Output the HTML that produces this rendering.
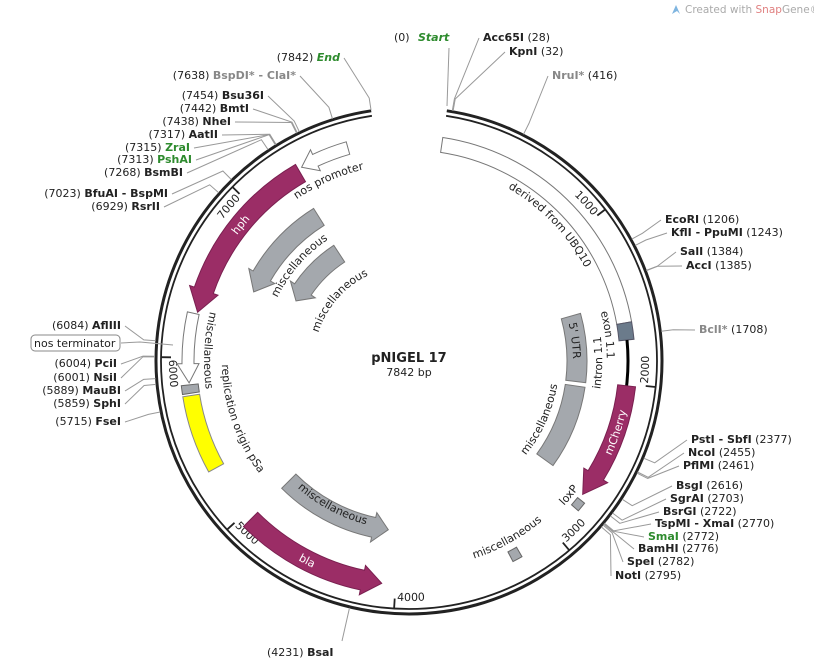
<!DOCTYPE html>
<html><head><meta charset="utf-8">
<style>
html,body{margin:0;padding:0;background:#fff;}
svg{display:block;}
text{font-family:"DejaVu Sans","Liberation Sans",sans-serif;}
</style></head>
<body>
<svg id="s" width="814" height="666" viewBox="0 0 814 666" xmlns="http://www.w3.org/2000/svg">
<rect width="814" height="666" fill="#fff"/>
<g id="g"></g>
<text x="685" y="13" font-size="10.5" fill="#aaa">Created with <tspan fill="#e08080">Snap</tspan>Gene®</text>
<path d="M672 14 L676 5 L680 14 L677 11 Z" fill="#7fb5e0"/>
<text x="409" y="362" font-size="13" font-weight="bold" text-anchor="middle" fill="#222">pNIGEL 17</text>
<text x="409" y="376" font-size="11" text-anchor="middle" fill="#222">7842 bp</text>
</svg>
<script>
const cx=409, cy=361, NS="http://www.w3.org/2000/svg";
const g=document.getElementById('g');
const P=p=>8.6+p/7842*342.8;
function pt(r,a){a=a*Math.PI/180;return [cx+r*Math.sin(a), cy-r*Math.cos(a)];}
const f=v=>v.toFixed(1);
function el(tag,attrs,txt){const e=document.createElementNS(NS,tag);for(const k in attrs)e.setAttribute(k,attrs[k]);if(txt!=null)e.textContent=txt;g.appendChild(e);return e;}
function arcD(r,a1,a2,sweep){const [x1,y1]=pt(r,a1),[x2,y2]=pt(r,a2);const L=Math.abs(a2-a1)>180?1:0;return `M${f(x1)} ${f(y1)} A${r} ${r} 0 ${L} ${sweep} ${f(x2)} ${f(y2)}`;}
function band(r1,r2,a1,a2,fill,stroke){
 const [x1,y1]=pt(r2,a1),[x2,y2]=pt(r2,a2),[x3,y3]=pt(r1,a2),[x4,y4]=pt(r1,a1);const L=(a2-a1)>180?1:0;
 el('path',{d:`M${f(x1)} ${f(y1)} A${r2} ${r2} 0 ${L} 1 ${f(x2)} ${f(y2)} L${f(x3)} ${f(y3)} A${r1} ${r1} 0 ${L} 0 ${f(x4)} ${f(y4)}Z`,fill:fill,stroke:stroke||'#777','stroke-width':1});}
function arrow(r1,r2,tail,tip,h,fill,stroke,e){
 e=e||5;const rm=(r1+r2)/2;let d;
 if(tip>tail){const b=tip-h;
  const a=pt(r2,tail),bb=pt(r2,b),c=pt(r2+e,b),t=pt(rm,tip),d1=pt(r1-e,b),d2=pt(r1,b),z=pt(r1,tail);
  d=`M${f(a[0])} ${f(a[1])} A${r2} ${r2} 0 0 1 ${f(bb[0])} ${f(bb[1])} L${f(c[0])} ${f(c[1])} L${f(t[0])} ${f(t[1])} L${f(d1[0])} ${f(d1[1])} L${f(d2[0])} ${f(d2[1])} A${r1} ${r1} 0 0 0 ${f(z[0])} ${f(z[1])}Z`;
 } else {const b=tip+h;
  const a=pt(r2,tail),bb=pt(r2,b),c=pt(r2+e,b),t=pt(rm,tip),d1=pt(r1-e,b),d2=pt(r1,b),z=pt(r1,tail);
  d=`M${f(a[0])} ${f(a[1])} A${r2} ${r2} 0 0 0 ${f(bb[0])} ${f(bb[1])} L${f(c[0])} ${f(c[1])} L${f(t[0])} ${f(t[1])} L${f(d1[0])} ${f(d1[1])} L${f(d2[0])} ${f(d2[1])} A${r1} ${r1} 0 0 1 ${f(z[0])} ${f(z[1])}Z`;}
 el('path',{d:d,fill:fill,stroke:stroke||'#666','stroke-width':1});}
let pid=0;
function tarc(txt,r,a,cw,opt){opt=opt||{};const id='tp'+(pid++);const anchor=opt.anchor||'middle';
 let d;
 if(anchor==='middle'){d=cw?arcD(r,a-80,a+80,1):arcD(r,a+80,a-80,0);}
 else if(anchor==='end'){d=arcD(r,a-80,a,1);} // cw ending at a
 else {d=arcD(r,a,a-80,0);} // ccw starting at a
 el('path',{id:id,d:d,fill:'none',stroke:'none'});
 const t=el('text',{'font-size':opt.size||11,fill:opt.fill||'#222','text-anchor':anchor});
 const tp=document.createElementNS(NS,'textPath');tp.setAttribute('href','#'+id);
 tp.setAttribute('startOffset',anchor==='middle'?'50%':(anchor==='end'?'100%':'0%'));tp.textContent=txt;t.appendChild(tp);}

// ring
el('path',{d:arcD(253,P(0),P(7842),1),fill:'none',stroke:'#222','stroke-width':3});
el('path',{d:arcD(248,P(0),P(7842),1),fill:'none',stroke:'#222','stroke-width':1.8});
// ticks
[[1000,'cw'],[2000,'ccw'],[3000,'ccw'],[4000,'ccw'],[5000,'ccw'],[6000,'ccw'],[7000,'cw']].forEach(([p,m])=>{
 const a=P(p);const [x1,y1]=pt(248,a),[x2,y2]=pt(238,a);
 el('line',{x1:f(x1),y1:f(y1),x2:f(x2),y2:f(y2),stroke:'#222','stroke-width':1.8});
 if(m==='cw')tarc(String(p),234,a-0.6,true,{anchor:'end'});else tarc(String(p),240,a-0.6,false,{anchor:'start'});
});

// features
band(211,226,P(0),80,'#fff','#777');
band(211,226,80,84.5,'#6b7b8b','#556');
el('path',{d:arcD(219,84.5,96.5,1),fill:'none',stroke:'#000','stroke-width':3});
arrow(210,228,96.5,127.5,6,'#9b2d66','#7a2050',5);
band(217,226,129,131.5,'#a4a8ad','#666');
band(215,226,150,152.6,'#a4a8ad','#666');
band(158,178,74.5,97,'#a4a8ad','#777');
band(158,178,98.5,126,'#a4a8ad','#777');
arrow(160,180,225,187,5,'#a4a8ad','#777',5);
arrow(214,234,225,187,5,'#9b2d66','#7a2050',5);
band(212,229,241,261,'#ffff00','#888');
band(212,229,261.6,263.8,'#a4a8ad','#666');
arrow(215,227,282.5,264.3,5,'#fff','#777',5);
arrow(207,227,330,283,6,'#9b2d66','#7a2050',5);
arrow(215,228,344,331,4,'#fff','#777',5);
arrow(160,180,328,294,6,'#a4a8ad','#777',5);
arrow(118,138,327,298,6,'#a4a8ad','#777',5);

// feature labels
tarc('derived from UBQ10',199,46,true);
tarc('nos promoter',197,336,true);
tarc('hph',213,309,true,{fill:'#fff'});
tarc('miscellaneous',146,311,true);
tarc('miscellaneous',95,311,true);
tarc('miscellaneous',205,273,false);
tarc('replication origin pSa',187,251,false);
tarc('miscellaneous',169,208,false);
tarc('bla',228,207,false,{fill:'#fff'});
tarc('miscellaneous',208,151,false);
tarc('loxP',212,130,false);
tarc('mCherry',223,109,false,{fill:'#fff'});
tarc("5' UTR",164,83,true);
tarc('miscellaneous',150,114,false);
tarc('exon 1.1',198,82.5,true);
tarc('intron 1.1',193,90.5,false);

// restriction sites
const G='#2e8b2e', GR='#888';
function site(pos,name,num,x,y,side,color,extra){
 const a=P(pos);const [rx,ry]=pt(254,a),[ex,ey]=pt(266,a);
 const lx=side==='L'?x+4:x-4, ly=y-3;
 el('polyline',{points:`${f(rx)},${f(ry)} ${f(ex)},${f(ey)} ${lx},${ly}`,fill:'none',stroke:'#999','stroke-width':1});
 const t=el('text',{x:x,y:y,'font-size':11,fill:'#222','text-anchor':side==='L'?'end':'start'});
 const mk=(s,b,c,it)=>{const ts=document.createElementNS(NS,'tspan');ts.textContent=s;if(b)ts.setAttribute('font-weight','bold');if(c)ts.setAttribute('fill',c);if(it)ts.setAttribute('font-style','italic');t.appendChild(ts);};
 if(side==='L'){mk('('+num+')  ');mk(name,true,color,extra);} else {mk(name,true,color,extra);mk('  ('+num+')');}
}
const L=[[7842,'End',340,61,G,1],[7638,'BspDI* - ClaI*',296,79,GR],[7454,'Bsu36I',264,99],[7442,'BmtI',249,112],[7438,'NheI',231,125],
[7317,'AatII',218,138],[7315,'ZraI',190,151,G],[7313,'PshAI',192,163,G],[7268,'BsmBI',183,176],[7023,'BfuAI - BspMI',168,197],[6929,'RsrII',160,210],
[6084,'AflIII',121,329],[6004,'PciI',117,367],[6001,'NsiI',117,381],[5889,'MauBI',121,394],[5859,'SphI',121,407],[5715,'FseI',121,425]];
L.forEach(s=>site(s[0],s[1],s[0],s[2],s[3],'L',s[4],s[5]));
const R=[[0,'Start',0,0],[28,'Acc65I',483,41],[32,'KpnI',509,55],[416,'NruI*',552,79,GR],[1206,'EcoRI',665,223],[1243,'KflI - PpuMI',671,236],
[1384,'SalI',680,255],[1385,'AccI',686,269],[1708,'BclI*',699,333,GR],[2377,'PstI - SbfI',691,443],[2455,'NcoI',688,456],[2461,'PflMI',683,469],
[2616,'BsgI',676,489],[2703,'SgrAI',670,502],[2722,'BsrGI',663,515],[2770,'TspMI - XmaI',655,527],[2772,'SmaI',648,540,G],[2776,'BamHI',638,552],
[2782,'SpeI',627,565],[2795,'NotI',615,579]];
R.slice(1).forEach(s=>site(s[0],s[1],s[0],s[2],s[3],'R',s[4]));
// Start
el('polyline',{points:'447,106 449,48',fill:'none',stroke:'#999'});
el('text',{x:394,y:41,'font-size':11,fill:'#222'},'(0)  ');
el('text',{x:418,y:41,'font-size':11,fill:G,'font-weight':'bold','font-style':'italic'},'Start');
// BsaI
(function(){const a=P(4231);const [rx,ry]=pt(254,a);el('line',{x1:f(rx),y1:f(ry),x2:342,y2:641,stroke:'#999'});
 const t=el('text',{x:267,y:656,'font-size':11,fill:'#222'},'(4231)  ');const ts=document.createElementNS(NS,'tspan');ts.setAttribute('font-weight','bold');ts.textContent='BsaI';t.appendChild(ts);})();
// nos terminator
el('rect',{x:31,y:335,width:89,height:16,rx:4,fill:'#fff',stroke:'#888'});
el('text',{x:34,y:347,'font-size':11,fill:'#222'},'nos terminator');
el('polyline',{points:'121,343 140,342 173,345',fill:'none',stroke:'#999'});
</script>
</body></html>
